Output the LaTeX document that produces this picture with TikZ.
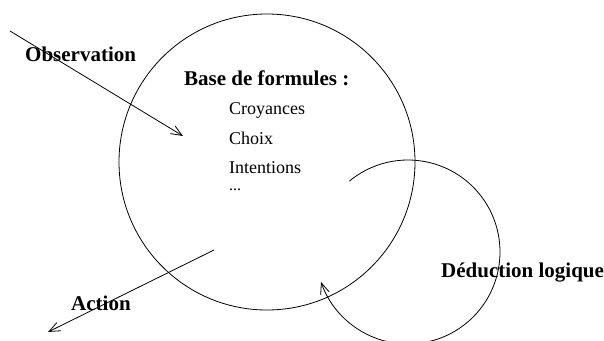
\documentclass[tikz,border=0pt]{standalone}
\usepackage{fontspec}
\setmainfont{Liberation Serif}
\usetikzlibrary{arrows.meta}
\begin{document}
\begin{tikzpicture}[x=1bp,y=-1bp,
  line/.style={line width=0.8bp},
  arr/.style={line, -{Straight Barb[length=11bp,width=9bp,line width=0.8bp]}},
  boldlabel/.style={anchor=base west, inner sep=0pt, font=\fontsize{21bp}{25bp}\selectfont\bfseries},
  item/.style={anchor=base west, inner sep=0pt, font=\fontsize{18bp}{21bp}\selectfont},
  bigcircle/.style={circle, draw, line, minimum size=296bp, inner sep=0pt}]
\useasboundingbox (0,0) rectangle (604,340);
% base circle
\node[bigcircle] (base) at (267,162) {};
% labels
\node[boldlabel] (title) at (184,85) {Base de formules :};
\node[item] (croy) at (229,114) {Croyances};
\node[item] (choix) at (229,144) {Choix};
\node[item] (int) at (229,173) {Intentions};
\node[item, font=\fontsize{16bp}{19bp}\selectfont] (dots) at (229,190) {...};
\node[boldlabel] (obs) at (25,61) {Observation};
\node[boldlabel] (act) at (71,310) {Action};
\node[boldlabel] (ded) at (441,277) {Déduction logique};
% observation arrow
\coordinate (obsstart) at (10,31);
\coordinate (obsend) at (183,136);
\draw[arr] (obsstart) -- (obsend);
% action arrow
\coordinate (actstart) at (214,250);
\coordinate (actend) at (48,332);
\draw[arr] (actstart) -- (actend);
% deduction loop
\coordinate (dc) at (408,252);
\coordinate (dedstart) at ([shift={(129.6:92bp)}]dc);
\draw[arr] (dedstart) arc[start angle=129.6, end angle=-161, radius=92bp];
\end{tikzpicture}
\end{document}
